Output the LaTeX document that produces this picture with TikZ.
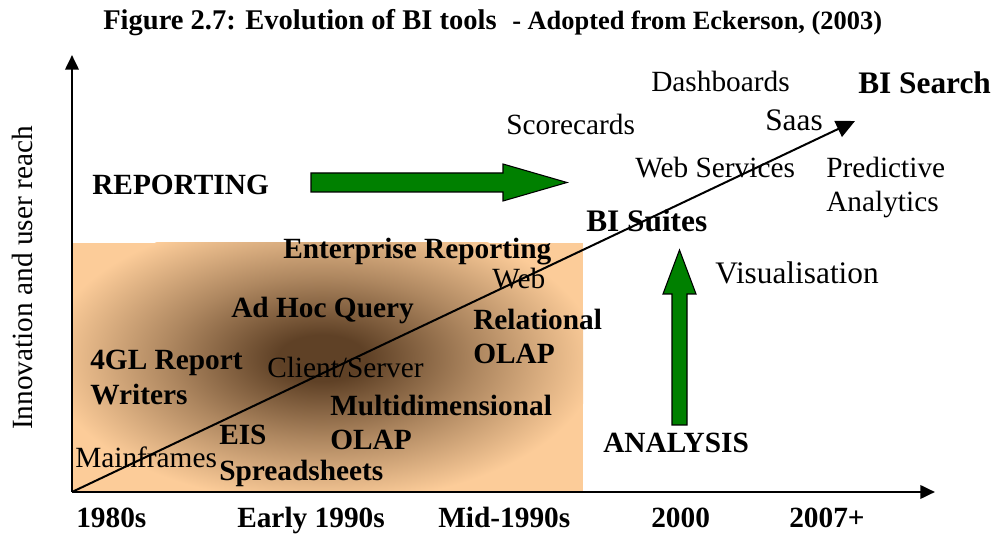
\documentclass[tikz,border=0pt]{standalone}
\usepackage{fontspec}
\setmainfont{Liberation Serif}
\usetikzlibrary{arrows.meta}

\definecolor{peach}{RGB}{252,204,153}
\definecolor{darkbrown}{RGB}{95,65,38}
\definecolor{arrowgreen}{RGB}{0,128,0}

\pgfdeclareradialshading{glow}{\pgfpoint{0bp}{0bp}}{%
  color(0bp)=(darkbrown); color(4bp)=(darkbrown); color(14bp)=(darkbrown!50!peach); color(25bp)=(peach); color(50bp)=(peach)}

\tikzset{
  lbl/.style={font=\fontsize{22}{24}\selectfont, inner sep=0pt, anchor=base west},
  blbl/.style={font=\fontsize{22}{24}\selectfont\bfseries, inner sep=0pt, anchor=base west},
  biglbl/.style={font=\fontsize{23.5}{26}\selectfont, inner sep=0pt, anchor=base west},
  bigblbl/.style={font=\fontsize{23.5}{26}\selectfont\bfseries, inner sep=0pt, anchor=base west},
  axis/.style={line width=2pt, -{Triangle[length=11pt,width=10pt]}},
  blockarrow/.style={fill=arrowgreen, draw=black, line width=0.8pt, line join=miter}
}

\begin{document}
\begin{tikzpicture}[x=0.75pt, y=-0.75pt]
    \useasboundingbox (0,0) rectangle (997,534);
    % shaded area
    \fill[peach] (72,243) rectangle (583,492);
    \begin{scope}
        \clip (72,243) rectangle (583,492);
        \shade[shading=glow] (322,358) ellipse (275 and 145);
    \end{scope}
    % title
    \node[font=\fontsize{21.4}{24}\selectfont\bfseries, inner sep=0pt, anchor=base west] (title) at (103,30) {Figure 2.7: Evolution of BI tools};
    \node[font=\fontsize{19.8}{22}\selectfont\bfseries, inner sep=0pt, anchor=base west] (source) at (512,30) {- Adopted from Eckerson, (2003)};
    % axes
    \coordinate (origin) at (72,492);
    \coordinate (ytip) at (72,55);
    \coordinate (xtip) at (935,492);
    \coordinate (trend) at (855,121);
    \draw[axis] (origin) -- (ytip);
    \draw[axis] (origin) -- (xtip);
    \draw[line width=1.5pt, -{Triangle[length=14pt,width=13pt]}] (origin) -- (trend);
    \node[lbl, rotate=90, anchor=center] (yaxis) at (22,278) {Innovation and user reach};
    % green arrows
    \draw[blockarrow] (311,173) -- (503,173) -- (503,164) -- (567,182.5) -- (503,201) -- (503,192) -- (311,192) -- cycle;
    \draw[blockarrow] (672,425) -- (672,294) -- (663,294) -- (679.5,250) -- (696,294) -- (687,294) -- (687,425) -- cycle;
    % labels
    \node[blbl] (reporting) at (92,195) {REPORTING};
    \node[blbl] (analysis) at (603,453) {ANALYSIS};
    \node[blbl] (enterprise) at (283,259) {Enterprise Reporting};
    \node[lbl] (web) at (492,289) {Web};
    \node[blbl] (adhoc) at (231,318) {Ad Hoc Query};
    \node[blbl] (relational) at (473,330) {Relational};
    \node[blbl] (rolap) at (473,364) {OLAP};
    \node[blbl] (fourgl) at (90,370) {4GL Report};
    \node[blbl] (writers) at (90,405) {Writers};
    \node[lbl] (clientserver) at (267,378) {Client/Server};
    \node[blbl] (multidim) at (330,416) {Multidimensional};
    \node[blbl] (molap) at (330,450) {OLAP};
    \node[blbl] (eis) at (219,445) {EIS};
    \node[lbl] (mainframes) at (75,468) {Mainframes};
    \node[blbl] (spreadsheets) at (219,481) {Spreadsheets};
    \node[lbl] (scorecards) at (506,135) {Scorecards};
    \node[lbl] (dashboards) at (651,92) {Dashboards};
    \node[bigblbl] (bisearch) at (858,94) {BI Search};
    \node[biglbl] (saas) at (765,131) {Saas};
    \node[lbl] (webservices) at (635,178) {Web Services};
    \node[lbl] (predictive) at (826,178) {Predictive};
    \node[lbl] (analytics) at (826,212) {Analytics};
    \node[bigblbl] (bisuites) at (586,232) {BI Suites};
    \node[biglbl] (visual) at (715,284) {Visualisation};
    % time axis labels
    \node[blbl] (t1980) at (76,528) {1980s};
    \node[blbl] (t1990) at (237,528) {Early 1990s};
    \node[blbl] (tmid) at (438,528) {Mid-1990s};
    \node[blbl] (t2000) at (651,528) {2000};
    \node[blbl] (t2007) at (789,528) {2007+};
\end{tikzpicture}
\end{document}
